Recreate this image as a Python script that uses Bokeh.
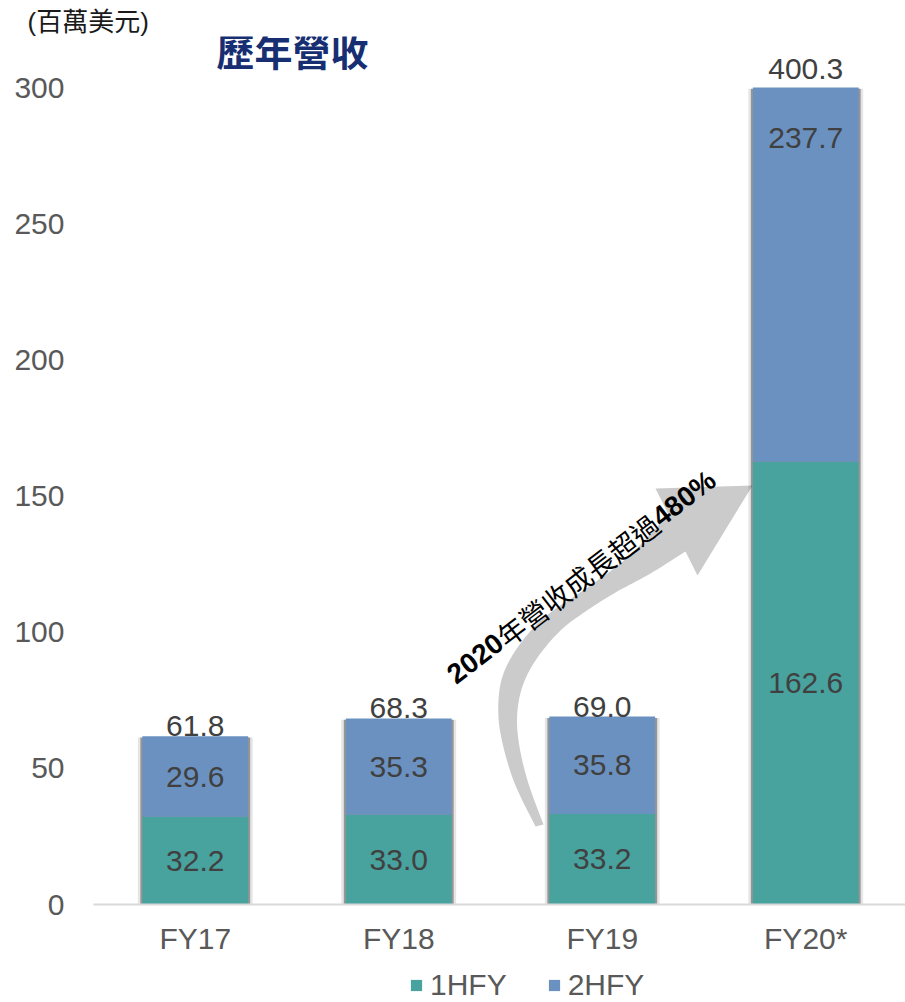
import math
import numpy as np
from bokeh.plotting import figure
from bokeh.layouts import column
from bokeh.models import (ColumnDataSource, Range1d, FixedTicker, LabelSet, Label,
                          Legend, LegendItem)
from bokeh.core.properties import value
from bokeh.embed import file_html
from bokeh.resources import INLINE

# ---------------- data ----------------
categories = ["FY17", "FY18", "FY19", "FY20*"]
series_names = ["1HFY", "2HFY"]
first_half = [32.2, 33.0, 33.2, 162.6]
second_half = [29.6, 35.3, 35.8, 237.7]
totals = [61.8, 68.3, 69.0, 400.3]
y_ticks = [0, 50, 100, 150, 200, 250, 300]
unit_text = "(百萬美元)"
title_text = "歷年營收"
growth_parts = ["2020", "年營收成長超過", "480%"]

# ---------------- style / geometry ----------------
TEAL = "#48A29E"
BLUE = "#6B91C0"
VAL_COLOR = "#404040"
TICK_COLOR = "#595959"
TITLE_COLOR = "#172F72"
LATIN = "Liberation Sans"
CJK = "Noto Sans CJK TC"
MIXED = "'Liberation Sans', 'Noto Sans CJK TC'"
FS = "30px"

PAGE_W, PAGE_H = 905, 1002
LEG_H = 40                       # height of the legend strip below the chart
FIG_W, FIG_H = PAGE_W, PAGE_H - LEG_H
B_LEFT, B_TOP, B_BOTTOM, B_RIGHT = 93, 36, 58, 0
CAT_PX = 203.5          # pixels per category
AXIS_PX = 817           # pixels spanned by 0 .. Y_MAX
FRAME_W = FIG_W - B_LEFT - B_RIGHT
FRAME_H = FIG_H - B_TOP - B_BOTTOM
FRAME_BOTTOM = B_TOP + FRAME_H
Y_MAX = y_ticks[-1]
Y_END = FRAME_H * Y_MAX / AXIS_PX
BAR_W = 0.52


def px_x(px):
    return (px - B_LEFT) / CAT_PX


def px_y(py):
    return (FRAME_BOTTOM - py) * Y_MAX / AXIS_PX


xs = [i + 0.5 for i in range(len(categories))]
cum = [a + b for a, b in zip(first_half, second_half)]
source = ColumnDataSource(dict(
    x=xs, cat=categories, h1=first_half, h2=second_half, total=totals,
    b1=[0] * len(xs),
    t1=[min(a, Y_MAX) for a in first_half],
    b2=[min(a, Y_MAX) for a in first_half],
    t2=[min(c, Y_MAX) for c in cum],
    top_sh=[min(t, Y_MAX) - 0.5 for t in totals],
    mid1=[a / 2 for a in first_half],
    mid2=[a + b / 2 for a, b in zip(first_half, second_half)],
    tot_y=[min(t, Y_MAX) for t in totals],
    tot_off=[9 if t > Y_MAX else 0 for t in totals],
    l1=[f"{v:.1f}" for v in first_half],
    l2=[f"{v:.1f}" for v in second_half],
    lt=[f"{v:.1f}" for v in totals],
))

p = figure(width=FIG_W, height=FIG_H, output_backend="svg", toolbar_location=None,
           title=unit_text,
           x_range=Range1d(0, FRAME_W / CAT_PX), y_range=Range1d(0, Y_END),
           min_border_left=B_LEFT, min_border_right=B_RIGHT,
           min_border_top=B_TOP, min_border_bottom=B_BOTTOM)
p.outline_line_color = None
p.background_fill_color = "white"
p.border_fill_color = "white"
p.xgrid.grid_line_color = None
p.ygrid.grid_line_color = None

# unit text as the figure title (top-left, outside the frame)
p.title.align = "left"
p.title.offset = 27 - B_LEFT
p.title.standoff = 0
p.title.text_font = MIXED
p.title.text_font_style = "normal"
p.title.text_font_size = "26px"
p.title.text_color = "#1A1A1A"

# ---------------- curved arrow (decoration, pixel geometry) ----------------
def catmull(points, n=10):
    pts = np.array(points, float)
    P = np.vstack([pts[0], pts, pts[-1]])
    out = []
    for i in range(1, len(P) - 2):
        p0, p1, p2, p3 = P[i - 1], P[i], P[i + 1], P[i + 2]
        for t in np.linspace(0, 1, n, endpoint=False):
            t2, t3 = t * t, t * t * t
            out.append(0.5 * ((2 * p1) + (-p0 + p2) * t
                              + (2 * p0 - 5 * p1 + 4 * p2 - p3) * t2
                              + (-p0 + 3 * p1 - 3 * p2 + p3) * t3))
    out.append(pts[-1])
    return out

outer = [(535, 826), (513, 780), (500, 733), (498, 700), (503, 673), (517, 647),
         (537, 623), (557, 607), (590, 585), (628, 556), (668, 514)]
head = [(655, 488), (752, 485), (697, 575)]
inner = [(685, 551), (650, 573), (615, 592), (585, 611), (560, 630), (537, 657),
         (523, 683), (517, 710), (518, 740), (527, 780), (543, 824)]
poly = catmull(outer) + [np.array(h, float) for h in head] + catmull(inner)
p.patch([px_x(q[0]) for q in poly], [px_y(q[1]) for q in poly],
        fill_color="#CBCBCB", line_color=None)

# ---------------- bar shadows ----------------
p.vbar(x="x", top="top_sh", bottom=0, width=BAR_W + 9 / CAT_PX, source=source,
       fill_color="#000000", fill_alpha=0.10, line_color=None)
p.vbar(x="x", top="top_sh", bottom=0, width=BAR_W + 4 / CAT_PX, source=source,
       fill_color="#000000", fill_alpha=0.35, line_color=None)

# ---------------- stacked bars (clipped at the axis maximum) ----------------
r1 = p.vbar(x="x", bottom="b1", top="t1", width=BAR_W, source=source,
            fill_color=TEAL, line_color=None)
r2 = p.vbar(x="x", bottom="b2", top="t2", width=BAR_W, source=source,
            fill_color=BLUE, line_color=None)

# ---------------- value labels ----------------
for ycol, tcol in (("mid1", "l1"), ("mid2", "l2")):
    p.add_layout(LabelSet(x="x", y=ycol, text=tcol, source=source,
                          text_align="center", text_baseline="middle",
                          text_font=value(LATIN), text_font_size=FS,
                          text_color=VAL_COLOR))
p.add_layout(LabelSet(x="x", y="tot_y", text="lt", source=source, y_offset="tot_off",
                      text_align="center", text_baseline="alphabetic",
                      text_font=value(LATIN), text_font_size=FS,
                      text_color=VAL_COLOR))

# ---------------- rotated growth text ----------------
ang = math.radians(37.5)
fs_g = 28
widths = [4 * 0.556 * fs_g, 7 * fs_g, (3 * 0.556 + 0.889) * fs_g]
fonts = [LATIN, CJK, LATIN]
styles = ["bold", "normal", "bold"]
sx0, sy0 = 450, 677
acc = 0.0
for part, w, f, st in zip(growth_parts, widths, fonts, styles):
    gx = sx0 + acc * math.cos(ang)
    gy = sy0 - acc * math.sin(ang)
    p.text(x=[px_x(gx)], y=[px_y(gy)], text=[part], angle=ang,
           text_align="left", text_baseline="alphabetic",
           text_font=value(f), text_font_style=st, text_font_size=f"{fs_g}px",
           text_color="#000000")
    acc += w

# ---------------- chart title ----------------
p.add_layout(Label(x=px_x(216), y=px_y(49), text=title_text, text_align="left",
                   text_baseline="middle", text_font=CJK,
                   text_font_style="bold", text_font_size="38px",
                   text_color=TITLE_COLOR))

# ---------------- axes ----------------
p.xaxis.ticker = FixedTicker(ticks=xs)
p.xaxis.major_label_overrides = {x: c for x, c in zip(xs, categories)}
p.xaxis.axis_line_color = "#D9D9D9"
p.xaxis.axis_line_width = 2
p.xaxis.major_tick_line_color = None
p.xaxis.minor_tick_line_color = None
p.xaxis.major_tick_out = 0
p.xaxis.major_tick_in = 0
p.xaxis.major_label_standoff = 17
p.xaxis.major_label_text_font = LATIN
p.xaxis.major_label_text_font_size = FS
p.xaxis.major_label_text_color = TICK_COLOR

p.yaxis.ticker = FixedTicker(ticks=y_ticks)
p.yaxis.axis_line_color = None
p.yaxis.major_tick_line_color = None
p.yaxis.minor_tick_line_color = None
p.yaxis.major_tick_out = 0
p.yaxis.major_tick_in = 0
p.yaxis.major_label_standoff = 29
p.yaxis.major_label_text_font = LATIN
p.yaxis.major_label_text_font_size = FS
p.yaxis.major_label_text_color = TICK_COLOR

# ---------------- legend strip (same series, drawn outside its view) ----------------
pl = figure(width=PAGE_W, height=LEG_H, output_backend="svg", toolbar_location=None,
            x_range=Range1d(-20, -10), y_range=Range1d(-2 * Y_MAX, -Y_MAX),
            x_axis_location=None, y_axis_location=None, min_border=0)
pl.outline_line_color = None
pl.xgrid.grid_line_color = None
pl.ygrid.grid_line_color = None
lr = [pl.vbar(x="x", bottom=b, top=t, width=BAR_W, source=source,
              fill_color=c, line_color=None)
      for b, t, c in (("b1", "t1", TEAL), ("b2", "t2", BLUE))]
legend = Legend(items=[LegendItem(label=n, renderers=[r])
                       for n, r in zip(series_names, lr)],
                orientation="horizontal", location=(409 - B_LEFT, 0),
                glyph_width=14, glyph_height=14, label_standoff=7, spacing=40,
                padding=0, margin=0, border_line_color=None, background_fill_alpha=0,
                label_text_font=LATIN, label_text_font_size=FS,
                label_text_color=TICK_COLOR)
pl.add_layout(legend)

page = column(p, pl, spacing=0)
open("out.html", "w").write(file_html(page, INLINE))
